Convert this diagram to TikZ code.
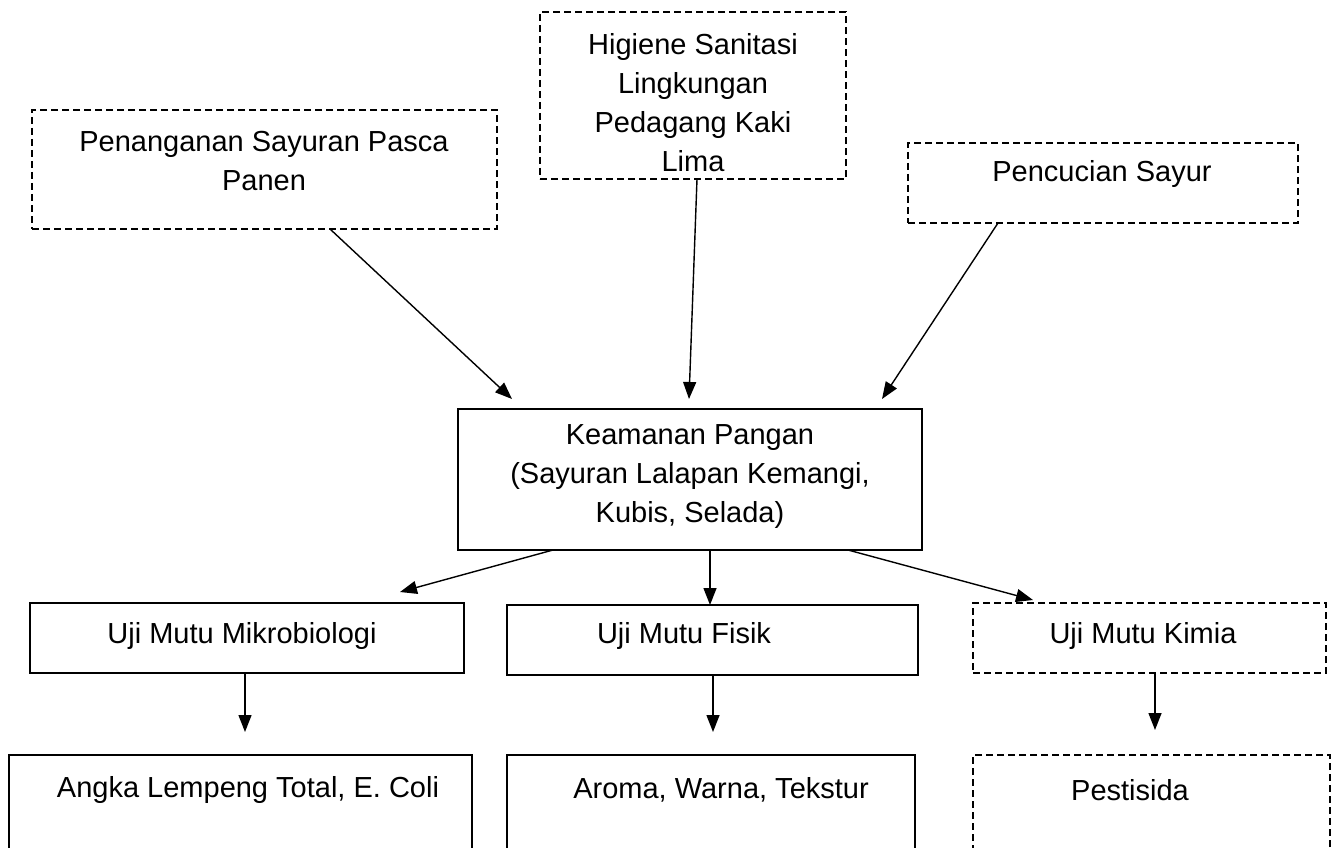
\documentclass[tikz,border=0pt]{standalone}
\usepackage{fontspec}
\setmainfont{Liberation Sans}
\usetikzlibrary{arrows.meta,calc}
\begin{document}
\begin{tikzpicture}[x=1pt,y=-1pt,
 box/.style={draw,line width=1.4pt,inner sep=0pt,outer sep=0pt,anchor=north west},
 dbox/.style={box,dash pattern=on 7pt off 4pt},
 txt/.style={font=\fontsize{29}{39}\selectfont,align=center,inner sep=0pt},
 arr/.style={line width=1.4pt,-{Triangle[length=17pt,width=13pt]}}]
\path[use as bounding box,clip] (0,0) rectangle (1341,848);
% boxes
\node[dbox,minimum width=465pt,minimum height=119pt] (A) at (32,110) {};
\node[dbox,minimum width=306pt,minimum height=167pt] (B) at (540,12) {};
\node[dbox,minimum width=390pt,minimum height=80pt] (C) at (908,143) {};
\node[box,minimum width=464pt,minimum height=141pt] (K) at (458,409) {};
\node[box,minimum width=434pt,minimum height=70pt] (M) at (30,603) {};
\node[box,minimum width=411pt,minimum height=70pt] (F) at (507,605) {};
\node[dbox,minimum width=353pt,minimum height=70pt] (Ki) at (973,603) {};
\node[box,minimum width=463pt,minimum height=120pt] (AL) at (9,755) {};
\node[box,minimum width=408pt,minimum height=120pt] (AR) at (507,755) {};
\node[dbox,minimum width=357pt,minimum height=120pt] (P) at (973,755) {};
% texts
\node[txt] (tA) at (264,161.5) {Penanganan Sayuran Pasca\\Panen};
\node[txt] (tB) at (693,102.5) {Higiene Sanitasi\\Lingkungan\\Pedagang Kaki\\Lima};
\node[txt] (tC) at (1102,174) {Pencucian Sayur};
\node[txt] (tK) at (690,477) {Keamanan Pangan\\(Sayuran Lalapan Kemangi,\\Kubis, Selada)};
\node[txt] (tM) at (242,636) {Uji Mutu Mikrobiologi};
\node[txt] (tF) at (684,636) {Uji Mutu Fisik};
\node[txt] (tKi) at (1143,636) {Uji Mutu Kimia};
\node[txt] (tAL) at (248,790) {Angka Lempeng Total, E. Coli};
\node[txt] (tAR) at (721,790) {Aroma, Warna, Tekstur};
\node[txt] (tP) at (1130,790) {Pestisida};
% connectors
\draw[arr] ($(A.south west)+(298,0)$) -- ($(K.north west)+(54,-10)$);
\draw[arr] ($(B.south west)+(157,0)$) -- ($(K.north west)+(231,-10)$);
\draw[arr] ($(C.south west)+(90,0)$) -- ($(K.north west)+(424,-10)$);
\draw[arr] ($(K.south west)+(95,0)$) -- ($(M.north west)+(370,-11)$);
\draw[arr] ($(K.south west)+(252,0)$) -- ($(F.north west)+(203,0)$);
\draw[arr] ($(K.south west)+(390,0)$) -- ($(Ki.north west)+(60,-3)$);
\draw[arr] ($(M.south west)+(215,0)$) -- ($(AL.north west)+(236,-23)$);
\draw[arr] ($(F.south west)+(206,0)$) -- ($(AR.north west)+(206,-23)$);
\draw[arr] ($(Ki.south west)+(182,0)$) -- ($(P.north west)+(182,-25)$);
\end{tikzpicture}
\end{document}
